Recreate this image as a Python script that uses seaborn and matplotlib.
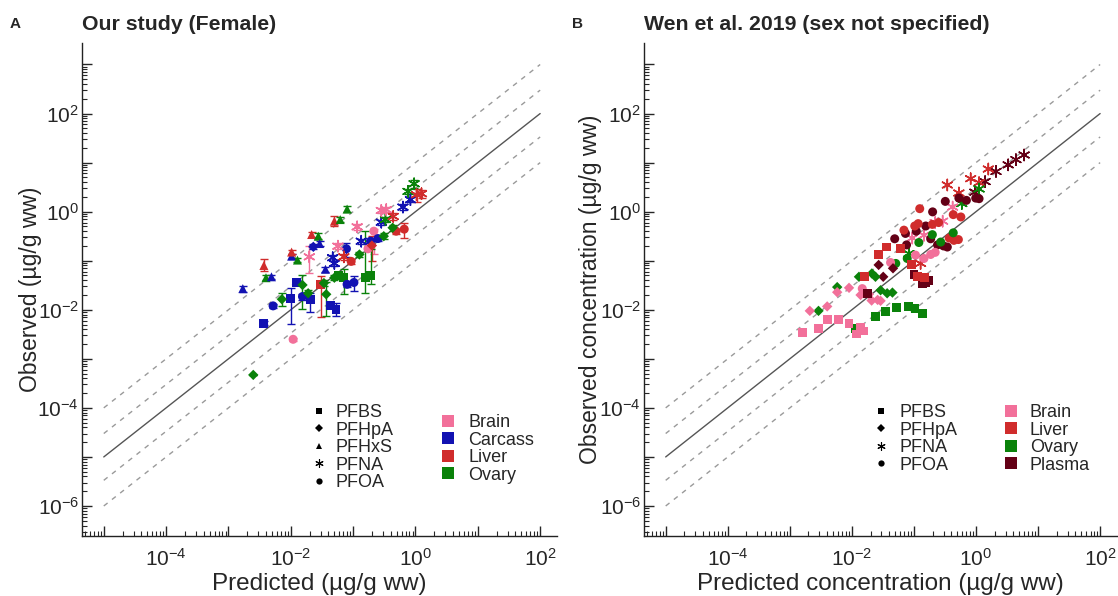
import matplotlib

matplotlib.use("Agg")
import matplotlib.pyplot as plt
import matplotlib.ticker as mticker
import numpy as np
import pandas as pd
import seaborn as sns
from matplotlib.lines import Line2D

# Panel A: our study (female), observed vs predicted with min/max bars
a_chem = [
    "PFHxS", "PFHxS", "PFHxS", "PFHxS", "PFBS", "PFOA", "PFHpA", "PFBS", "PFOA", "PFHxS",
    "PFHxS", "PFHxS", "PFBS", "PFHpA", "PFOA", "PFHpA", "PFBS", "PFHxS", "PFHxS", "PFHxS",
    "PFHpA", "PFNA", "PFHxS", "PFNA", "PFNA", "PFHpA", "PFBS", "PFHpA", "PFBS", "PFBS",
    "PFHpA", "PFBS", "PFBS", "PFOA", "PFOA", "PFNA", "PFOA", "PFOA", "PFNA", "PFHpA",
    "PFBS", "PFBS", "PFNA", "PFOA", "PFNA", "PFOA", "PFHpA", "PFOA", "PFOA", "PFHpA",
    "PFNA", "PFNA", "PFNA", "PFNA", "PFHxS", "PFHxS", "PFHxS", "PFNA", "PFHpA", "PFOA",
    "PFOA", "PFNA", "PFNA", "PFNA", "PFNA", "PFNA", "PFNA", "PFHpA",
]
a_tissue = [
    "Carcass", "Liver", "Ovary", "Carcass", "Carcass", "Carcass", "Ovary", "Carcass", "Brain", "Carcass",
    "Liver", "Ovary", "Carcass", "Ovary", "Carcass", "Ovary", "Carcass", "Liver", "Ovary", "Carcass",
    "Carcass", "Brain", "Carcass", "Carcass", "Carcass", "Ovary", "Liver", "Ovary", "Carcass", "Carcass",
    "Ovary", "Ovary", "Ovary", "Carcass", "Carcass", "Brain", "Carcass", "Liver", "Liver", "Ovary",
    "Ovary", "Ovary", "Carcass", "Carcass", "Brain", "Brain", "Liver", "Brain", "Carcass", "Ovary",
    "Carcass", "Ovary", "Brain", "Brain", "Liver", "Ovary", "Ovary", "Liver", "Ovary", "Liver",
    "Liver", "Carcass", "Carcass", "Ovary", "Ovary", "Liver", "Liver", "Ovary",
]
a_pred = [
    0.0017, 0.0037, 0.0040, 0.0049, 0.0037, 0.0052, 0.0072, 0.0100, 0.0109, 0.0103,
    0.0103, 0.0128, 0.0125, 0.0154, 0.0154, 0.019, 0.0205, 0.0216, 0.0276, 0.029,
    0.023, 0.0198, 0.036, 0.047, 0.050, 0.034, 0.030, 0.037, 0.043, 0.053,
    0.050, 0.058, 0.071, 0.080, 0.103, 0.057, 0.078, 0.093, 0.071, 0.126,
    0.156, 0.19, 0.135, 0.19, 0.116, 0.173, 0.20, 0.215, 0.25, 0.31,
    0.283, 0.33, 0.283, 0.34, 0.050, 0.062, 0.080, 0.44, 0.43, 0.49,
    0.66, 0.63, 0.83, 0.76, 0.95, 1.04, 1.25, 0.0025,
]
a_obs = [
    0.027, 0.080, 0.045, 0.047, 0.0053, 0.012, 0.0164, 0.017, 0.0025, 0.124,
    0.150, 0.103, 0.036, 0.032, 0.0186, 0.0217, 0.0164, 0.342, 0.316, 0.224,
    0.192, 0.120, 0.067, 0.115, 0.088, 0.035, 0.033, 0.0207, 0.012, 0.0103,
    0.045, 0.050, 0.045, 0.033, 0.036, 0.198, 0.175, 0.097, 0.12, 0.134,
    0.045, 0.050, 0.25, 0.25, 0.49, 0.175, 0.204, 0.40, 0.283, 0.316,
    0.61, 0.69, 1.06, 1.10, 0.64, 0.69, 1.13, 0.80, 0.47, 0.40,
    0.44, 1.24, 1.75, 2.59, 3.7, 2.21, 2.32, 0.00047,
]
a_lo = [
    0.023, 0.062, 0.040, 0.042, 0.0048, 0.011, 0.012, 0.0051, 0.0023, 0.110,
    0.135, 0.092, 0.032, 0.0103, 0.016, 0.019, 0.0091, 0.30, 0.28, 0.20,
    0.17, 0.057, 0.060, 0.10, 0.078, 0.031, 0.0070, 0.0075, 0.0108, 0.0075,
    0.040, 0.044, 0.0207, 0.029, 0.024, 0.17, 0.12, 0.085, 0.105, 0.118,
    0.0224, 0.033, 0.22, 0.22, 0.42, 0.155, 0.098, 0.134, 0.25, 0.28,
    0.54, 0.61, 0.93, 0.97, 0.50, 0.61, 1.0, 0.68, 0.41, 0.35,
    0.29, 1.1, 1.55, 2.3, 3.1, 1.6, 1.9, 0.00047,
]
a_hi = [
    0.031, 0.106, 0.050, 0.052, 0.0058, 0.013, 0.022, 0.028, 0.0027, 0.140,
    0.165, 0.115, 0.040, 0.050, 0.021, 0.025, 0.0217, 0.39, 0.36, 0.25,
    0.22, 0.198, 0.075, 0.13, 0.10, 0.040, 0.049, 0.036, 0.0135, 0.014,
    0.051, 0.056, 0.067, 0.037, 0.049, 0.23, 0.23, 0.11, 0.135, 0.15,
    0.40, 0.17, 0.28, 0.28, 0.57, 0.20, 0.32, 0.45, 0.32, 0.36,
    0.69, 0.78, 1.2, 1.25, 0.80, 0.78, 1.28, 0.94, 0.53, 0.45,
    0.59, 1.4, 1.98, 2.9, 4.4, 2.9, 2.8, 0.00047,
]

# Panel B: Wen et al. 2019
b_chem = (
    ["PFNA"] * 20
    + ["PFOA"] * 15 + ["PFHpA"] * 3 + ["PFBS"] * 5
    + ["PFOA"] * 11 + ["PFBS"] * 7
    + ["PFOA"] * 6 + ["PFHpA"] * 8 + ["PFBS"] * 7
    + ["PFOA"] * 6 + ["PFHpA"] * 9 + ["PFBS"] * 8
)
b_tissue = (
    ["Plasma", "Plasma", "Plasma", "Plasma", "Liver", "Plasma", "Liver", "Plasma", "Liver", "Ovary",
     "Liver", "Liver", "Ovary", "Brain", "Brain", "Brain", "Brain", "Brain", "Ovary", "Liver"]
    + ["Plasma"] * 23
    + ["Liver"] * 18
    + ["Ovary"] * 21
    + ["Brain"] * 23
)
b_pred = [
    5.96, 4.4, 3.3, 2.1, 1.58, 1.40, 1.12, 0.96, 0.82, 1.12,
    0.53, 0.345, 0.59, 0.42, 0.29, 0.22, 0.145, 0.094, 0.083, 0.128,
    0.32, 0.53, 0.70, 0.99, 1.12, 0.20, 0.155, 0.109, 0.073, 0.049,
    0.076, 0.186, 0.24, 0.30, 0.345, 0.027, 0.046, 0.032, 0.0177, 0.10,
    0.136, 0.17, 0.155,
    0.124, 0.43, 0.57, 0.069, 0.103, 0.198, 0.25, 0.117, 0.37, 0.44,
    0.52, 0.036, 0.027, 0.061, 0.092, 0.0162, 0.113, 0.149,
    0.43, 0.198, 0.12, 0.27, 0.051, 0.078, 0.013, 0.021, 0.024, 0.029,
    0.037, 0.045, 0.0058, 0.0029, 0.0115, 0.024, 0.035, 0.052, 0.081, 0.104,
    0.136,
    0.186, 0.22, 0.145, 0.106, 0.042, 0.0147, 0.0188, 0.0138, 0.0208, 0.026,
    0.029, 0.009, 0.0058, 0.0040, 0.0021, 0.0040, 0.0060, 0.009, 0.0138, 0.0156,
    0.0029, 0.0016, 0.0117,
]
b_obs = [
    14.3, 11.5, 9.0, 6.6, 7.4, 4.1, 3.9, 2.5, 4.7, 2.9,
    2.4, 3.5, 1.46, 1.24, 0.64, 0.60, 0.33, 0.29, 0.14, 0.088,
    1.62, 1.89, 1.70, 1.89, 1.84, 0.99, 0.51, 0.40, 0.36, 0.28,
    0.21, 0.28, 0.21, 0.20, 0.19, 0.082, 0.070, 0.047, 0.0217, 0.053,
    0.034, 0.039, 0.036,
    1.15, 0.87, 0.78, 0.42, 0.51, 0.55, 0.60, 0.57, 0.29, 0.26,
    0.27, 0.19, 0.134, 0.178, 0.084, 0.047, 0.047, 0.045,
    0.37, 0.34, 0.235, 0.24, 0.088, 0.111, 0.047, 0.055, 0.047, 0.025,
    0.0217, 0.0224, 0.029, 0.0095, 0.0042, 0.0073, 0.0092, 0.0113, 0.0117, 0.0105,
    0.0083,
    0.134, 0.148, 0.111, 0.130, 0.092, 0.027, 0.0207, 0.020, 0.0154, 0.0159,
    0.0152, 0.028, 0.0228, 0.0117, 0.0095, 0.0063, 0.0063, 0.0053, 0.0044, 0.0037,
    0.0041, 0.0034, 0.0032,
]

# fold-difference guide lines
fold_lines = [10, 3, 1, 1 / 3, 1 / 10]
x_decades = [-5, -4, -3, -2, -1, 0, 1, 2]
y_decades = [-6, -5, -4, -3, -2, -1, 0, 1, 2, 3]

tissue_colors = {
    "Brain": "#F2709A",
    "Carcass": "#1212B2",
    "Liver": "#D02C2C",
    "Ovary": "#0A820A",
    "Plasma": "#640016",
}
chem_markers = {"PFBS": "s", "PFHpA": "D", "PFHxS": "^", "PFNA": (6, 2, 0), "PFOA": "o"}
marker_sizes = {"PFBS": 40, "PFHpA": 28, "PFHxS": 42, "PFNA": 65, "PFOA": 42}


def log_label(v, pos):
    e = int(round(np.log10(v)))
    if e % 2:
        return ""
    return r"$\mathregular{10^{%d}}$" % e


def style_axes(ax, xlabel, ylabel, ylab_x):
    ax.set_xscale("log")
    ax.set_yscale("log")
    ax.set_xlim(10 ** -5.35, 10 ** 2.27)
    ax.set_ylim(10 ** -6.62, 10 ** 3.44)
    for axis, dec in ((ax.xaxis, x_decades), (ax.yaxis, y_decades)):
        axis.set_major_locator(mticker.FixedLocator([10.0 ** d for d in dec]))
        minors = [m * 10.0 ** d for d in dec[:-1] + [dec[0] - 1] for m in range(2, 10)]
        axis.set_minor_locator(mticker.FixedLocator(minors))
        axis.set_major_formatter(mticker.FuncFormatter(log_label))
        axis.set_minor_formatter(mticker.NullFormatter())
    ax.tick_params(which="major", direction="in", length=7, width=1, labelsize=15)
    ax.tick_params(axis="x", which="major", pad=8)
    ax.tick_params(axis="y", which="major", pad=2)
    ax.tick_params(which="minor", direction="in", length=3.5, width=0.8)
    sns.despine(ax=ax)
    for sp in ("left", "bottom"):
        ax.spines[sp].set_linewidth(1)
        ax.spines[sp].set_color("#222222")
    ax.set_xlabel(xlabel, fontsize=17.5)
    ax.set_ylabel(ylabel, fontsize=16.5)
    ax.xaxis.set_label_coords(0.5, -0.074)
    ax.yaxis.set_label_coords(ylab_x, 0.5)

    x_line = np.array([1e-5, 1e2])
    for f in fold_lines:
        if f == 1:
            ax.plot(x_line, x_line * f, color="#555555", lw=1, zorder=1)
        else:
            ax.plot(x_line, x_line * f, color="#9a9a9a", lw=1, ls=(0, (3.5, 4)), zorder=1)


def draw_points(ax, df):
    for chem, sub in df.groupby("chem", sort=False):
        kw = dict(linewidth=0) if chem != "PFNA" else dict(linewidth=1.1)
        sns.scatterplot(
            data=sub, x="pred", y="obs", hue="tissue", palette=tissue_colors,
            marker=chem_markers[chem], s=marker_sizes[chem], legend=False,
            ax=ax, zorder=3, **kw,
        )


def add_legends(ax, chems, tissues, chem_anchor, tissue_anchor, chem_pad, tissue_pad):
    chem_handles = [
        Line2D([0], [0], marker=chem_markers[c], color="black", ls="",
               markersize=6 if c == "PFNA" else 4.5, markeredgewidth=0.8 if c == "PFNA" else 0)
        for c in chems
    ]
    leg1 = ax.legend(chem_handles, chems, loc="upper left", bbox_to_anchor=chem_anchor,
                     frameon=False, fontsize=13, handlelength=1, handletextpad=chem_pad,
                     labelspacing=0.03, borderpad=0, borderaxespad=0)
    ax.add_artist(leg1)
    tissue_handles = [
        Line2D([0], [0], marker="s", color=tissue_colors[t], ls="", markersize=9,
               markeredgewidth=0)
        for t in tissues
    ]
    ax.legend(tissue_handles, tissues, loc="upper left", bbox_to_anchor=tissue_anchor,
              frameon=False, fontsize=13, handlelength=1, handletextpad=tissue_pad,
              labelspacing=0.03, borderpad=0, borderaxespad=0)


def main():
    sns.set_theme(style="ticks")
    plt.rcParams["font.family"] = ["Liberation Sans", "DejaVu Sans"]
    plt.rcParams["mathtext.fontset"] = "custom"
    plt.rcParams["mathtext.rm"] = "Liberation Sans"
    plt.rcParams["mathtext.it"] = "Liberation Sans:italic"
    plt.rcParams["mathtext.bf"] = "Liberation Sans:bold"

    df_a = pd.DataFrame({"chem": a_chem, "tissue": a_tissue, "pred": a_pred,
                         "obs": a_obs, "lo": a_lo, "hi": a_hi})
    df_b = pd.DataFrame({"chem": b_chem, "tissue": b_tissue, "pred": b_pred, "obs": b_obs})

    fig = plt.figure(figsize=(11.18, 5.96), dpi=100)
    ax_a = fig.add_axes([0.0733, 0.1, 0.4249, 0.828])
    ax_b = fig.add_axes([0.576, 0.1, 0.423, 0.828])

    # Panel A
    style_axes(ax_a, "Predicted (µg/g ww)", "Observed (µg/g ww)", -0.084)
    for tissue, sub in df_a.groupby("tissue"):
        yerr = np.vstack([sub["obs"] - sub["lo"], sub["hi"] - sub["obs"]])
        ax_a.errorbar(sub["pred"], sub["obs"], yerr=yerr, fmt="none",
                      ecolor=tissue_colors[tissue], elinewidth=1, capsize=3,
                      capthick=1, zorder=2)
    draw_points(ax_a, df_a)
    ax_a.set_title("Our study (Female)", loc="left", fontsize=15.3, fontweight="bold", pad=9)
    fig.text(0.009, 0.96, "A", fontsize=11, fontweight="bold", va="center")
    add_legends(ax_a, ["PFBS", "PFHpA", "PFHxS", "PFNA", "PFOA"],
                ["Brain", "Carcass", "Liver", "Ovary"],
                (0.48, 0.268), (0.752, 0.248), 0.4, 0.6)

    # Panel B
    style_axes(ax_b, "Predicted concentration (µg/g ww)", "Observed concentration (µg/g ww)",
               -0.089)
    draw_points(ax_b, df_b)
    ax_b.set_title("Wen et al. 2019 (sex not specified)", loc="left", fontsize=15.3,
                   fontweight="bold", pad=9)
    fig.text(0.512, 0.96, "B", fontsize=11, fontweight="bold", va="center")
    add_legends(ax_b, ["PFBS", "PFHpA", "PFNA", "PFOA"],
                ["Brain", "Liver", "Ovary", "Plasma"],
                (0.482, 0.268), (0.757, 0.268), 0.55, 0.55)

    fig.savefig("out.png", dpi=100)
    plt.close(fig)


if __name__ == "__main__":
    main()
